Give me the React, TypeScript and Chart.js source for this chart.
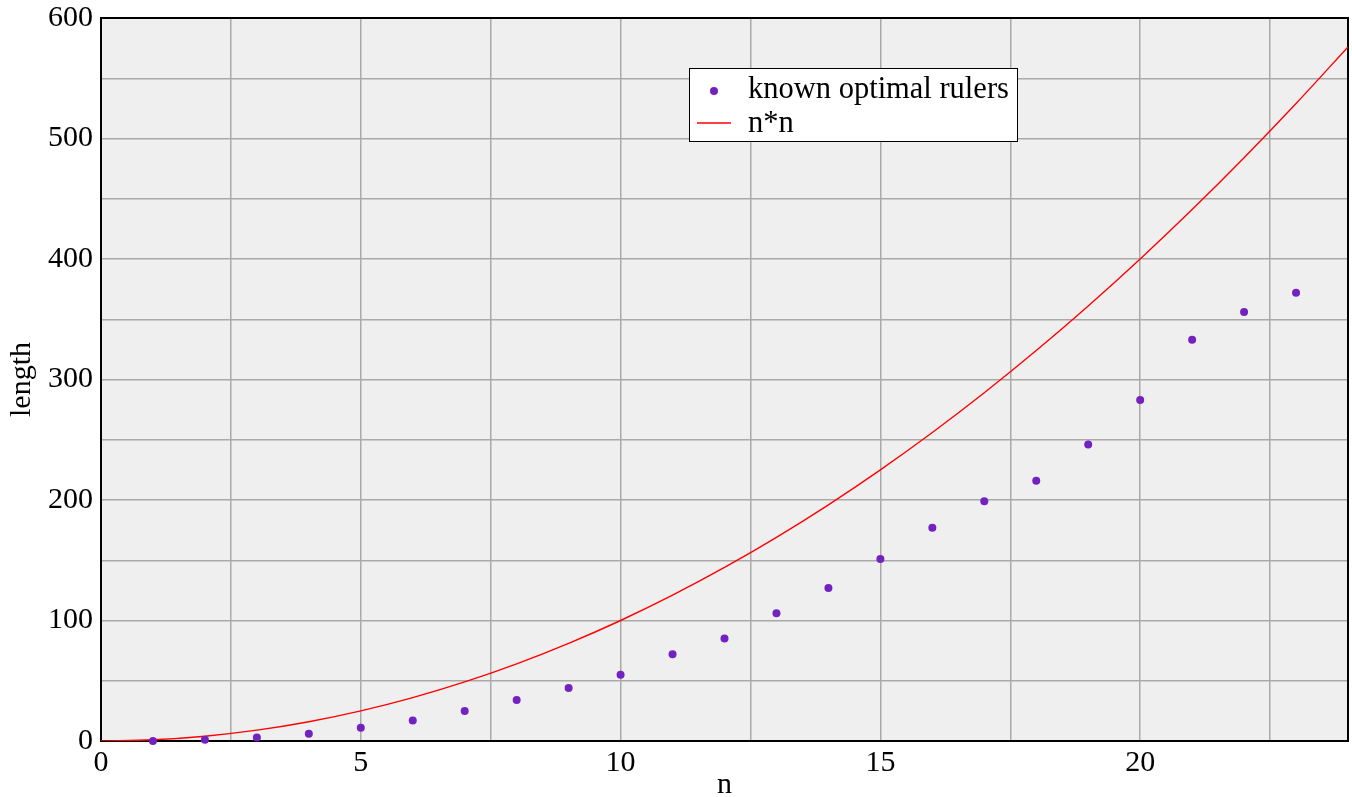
import React, { useEffect, useRef } from "react";
import { Chart, registerables } from "chart.js";

Chart.register(...registerables);

// Golomb ruler data: number of marks n vs known optimal length
const rulerMarks = [1, 2, 3, 4, 5, 6, 7, 8, 9, 10, 11, 12, 13, 14, 15, 16, 17, 18, 19, 20, 21, 22, 23];
const rulerLengths = [0, 1, 3, 6, 11, 17, 25, 34, 44, 55, 72, 85, 106, 127, 151, 177, 199, 216, 246, 283, 333, 356, 372];

// n*n reference curve, read at integer n
const curveN = [0, 1, 2, 3, 4, 5, 6, 7, 8, 9, 10, 11, 12, 13, 14, 15, 16, 17, 18, 19, 20, 21, 22, 23, 24];
const curveValues = [0, 1, 4, 9, 16, 25, 36, 49, 64, 81, 100, 121, 144, 169, 196, 225, 256, 289, 324, 361, 400, 441, 484, 529, 576];

const seriesLabels = ["known optimal rulers", "n*n"];
const xTitle = "n";
const yTitle = "length";

const FONT = "'Liberation Serif', 'Times New Roman', serif";
const POINT_COLOR = "#7322c2";
const LINE_COLOR = "#ff0000";
const GRID_COLOR = "#a9a9a9";

const bgPlugin = {
  id: "plotBg",
  beforeDraw(chart: any) {
    const { ctx, chartArea } = chart;
    ctx.save();
    ctx.fillStyle = "#efefef";
    ctx.fillRect(chartArea.left, chartArea.top, chartArea.right - chartArea.left, chartArea.bottom - chartArea.top);
    ctx.restore();
  },
  beforeDatasetsDraw(chart: any) {
    const { ctx, chartArea } = chart;
    ctx.save();
    ctx.strokeStyle = "#000";
    ctx.lineWidth = 2;
    ctx.strokeRect(chartArea.left, chartArea.top, chartArea.right - chartArea.left, chartArea.bottom - chartArea.top);
    ctx.restore();
  },
  afterDraw(chart: any) {
    const { ctx } = chart;
    ctx.save();
    // legend box
    const bx = 689, by = 68, bw = 328, bh = 73;
    ctx.fillStyle = "#fff";
    ctx.fillRect(bx, by, bw, bh);
    ctx.strokeStyle = "#000";
    ctx.lineWidth = 1;
    ctx.strokeRect(bx + 0.5, by + 0.5, bw, bh);
    const labels = chart.data.datasets.map((d: any) => d.label);
    ctx.fillStyle = POINT_COLOR;
    ctx.beginPath();
    ctx.arc(714, 91, 4, 0, Math.PI * 2);
    ctx.fill();
    ctx.strokeStyle = LINE_COLOR;
    ctx.lineWidth = 1.5;
    ctx.beginPath();
    ctx.moveTo(697, 123);
    ctx.lineTo(731, 123);
    ctx.stroke();
    ctx.fillStyle = "#000";
    ctx.font = `30.5px ${FONT}`;
    ctx.textBaseline = "middle";
    ctx.textAlign = "left";
    ctx.fillText(labels[0], 748, 90);
    ctx.fillText(labels[1], 748, 124);
    ctx.restore();
  },
};

export default function App() {
  const ref = useRef<HTMLCanvasElement | null>(null);
  useEffect(() => {
    document.body.style.margin = "0";
    const canvas = ref.current!;
    const chart = new Chart(canvas, {
      type: "scatter",
      data: {
        datasets: [
          {
            label: seriesLabels[0],
            data: rulerMarks.map((n, i) => ({ x: n, y: rulerLengths[i] })),
            backgroundColor: POINT_COLOR,
            borderColor: POINT_COLOR,
            pointRadius: 4,
            pointBorderWidth: 0,
            showLine: false,
            clip: false,
            order: 0,
          } as any,
          {
            label: seriesLabels[1],
            type: "line",
            data: curveN.map((n, i) => ({ x: n, y: curveValues[i] })),
            borderColor: LINE_COLOR,
            borderWidth: 1.4,
            pointRadius: 0,
            fill: false,
            cubicInterpolationMode: "monotone",
            order: 1,
          } as any,
        ],
      },
      options: {
        animation: false,
        responsive: false,
        layout: { padding: { top: 18, right: 3, left: 0, bottom: 0 } },
        plugins: { legend: { display: false }, tooltip: { enabled: false } },
        scales: {
          x: {
            type: "linear",
            min: 0,
            max: 24,
            afterFit(scale: any) {
              scale.height = 56;
              scale.paddingLeft = 0;
              scale.paddingRight = 0;
            },
            ticks: {
              stepSize: 2.5,
              autoSkip: false,
              maxRotation: 0,
              padding: 4,
              color: "#000",
              font: { family: FONT, size: 30 },
              callback: (v: any) => (Number(v) % 5 === 0 ? String(v) : ""),
            },
            grid: { color: GRID_COLOR, lineWidth: 1.5, drawTicks: false },
            border: { display: false },
            title: {
              display: true,
              text: xTitle,
              color: "#000",
              font: { family: FONT, size: 30, lineHeight: 0.8 },
              padding: { top: 0, bottom: 0 },
            },
          },
          y: {
            type: "linear",
            min: 0,
            max: 600,
            afterFit(scale: any) {
              scale.width = 101;
              scale.paddingTop = 0;
              scale.paddingBottom = 0;
            },
            ticks: {
              stepSize: 50,
              autoSkip: false,
              padding: 8,
              color: "#000",
              font: { family: FONT, size: 30 },
              callback: (v: any) => (Number(v) % 100 === 0 ? String(v) : ""),
            },
            grid: { color: GRID_COLOR, lineWidth: 1.5, drawTicks: false },
            border: { display: false },
            title: {
              display: true,
              text: yTitle,
              color: "#000",
              font: { family: FONT, size: 30, lineHeight: 1 },
              padding: { top: 7, bottom: 0 },
            },
          },
        },
      },
      plugins: [bgPlugin],
    });
    return () => chart.destroy();
  }, []);
  return (
    <div style={{ position: "absolute", left: 0, top: 0, width: 1352, height: 797 }}>
      <canvas ref={ref} width={1352} height={797} style={{ width: 1352, height: 797 }} />
    </div>
  );
}
